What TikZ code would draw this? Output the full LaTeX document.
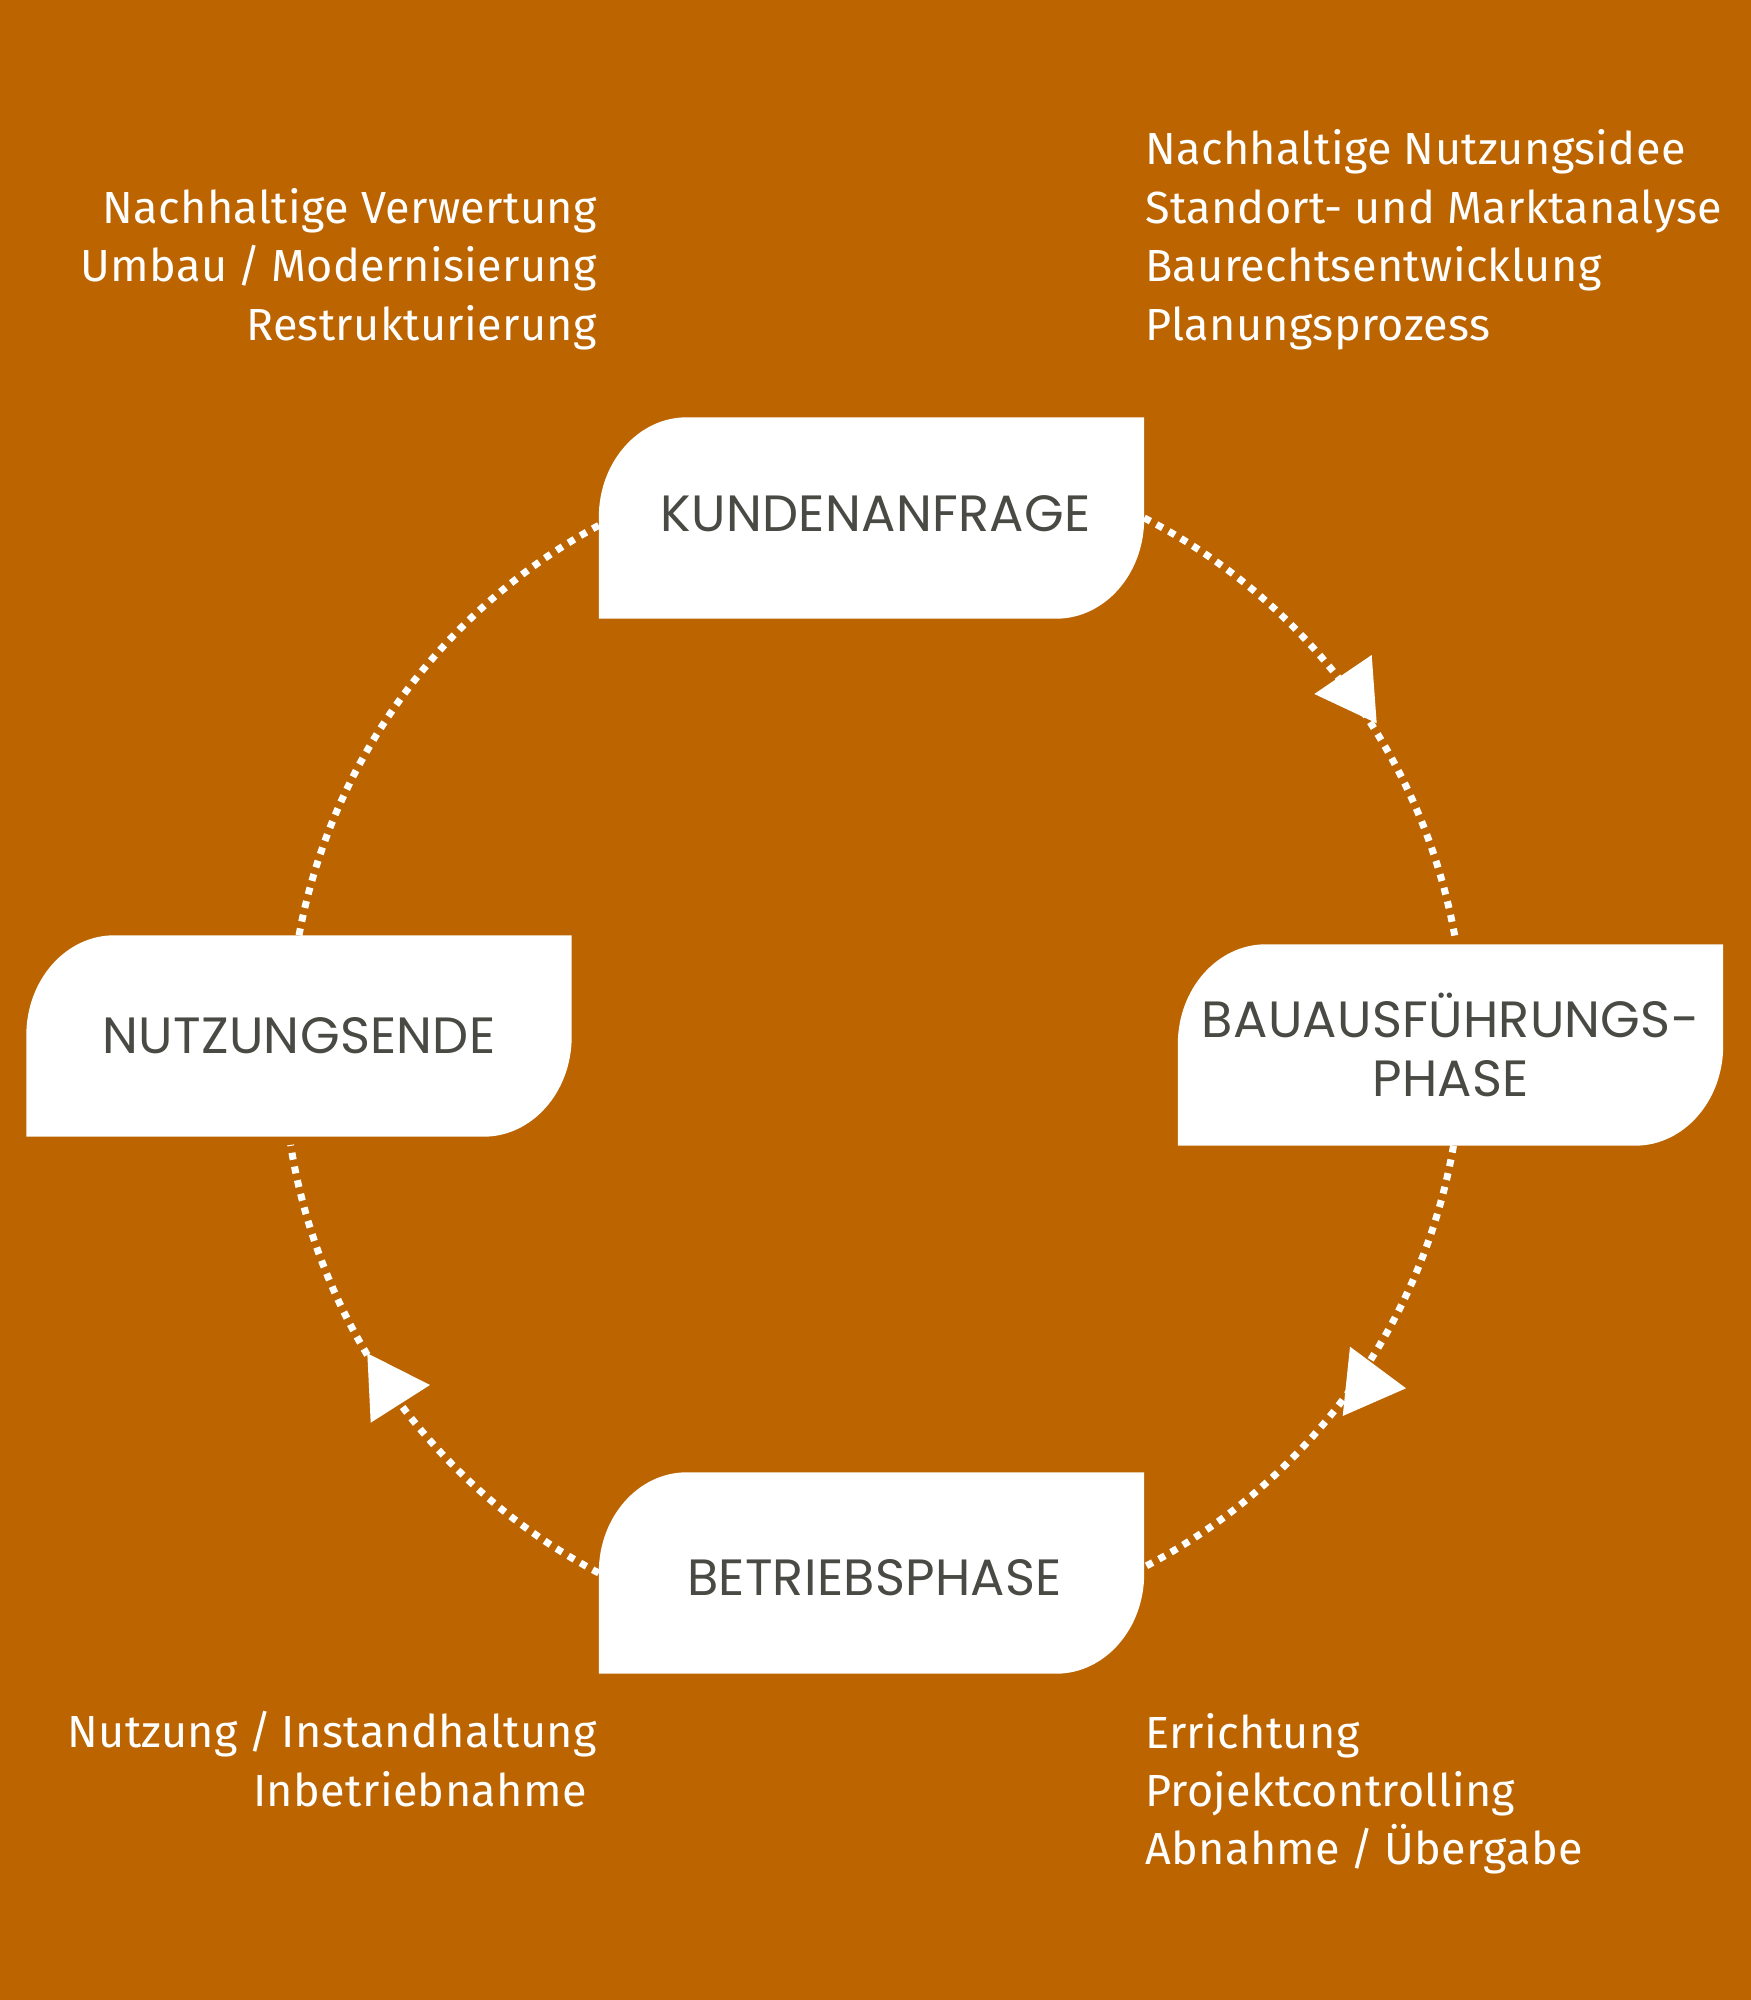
\documentclass[tikz,border=0pt]{standalone}
\usepackage{fontspec}
\setmainfont{Fira Sans}[LetterSpace=0.8]
\newfontfamily\labelfont{Poppins}[LetterSpace=0.6]
\usetikzlibrary{backgrounds,calc}
\definecolor{bgorange}{HTML}{BB6400}
\definecolor{labelgray}{HTML}{4A4A44}
\newcommand\leafbox[1]{\fill[white] (#1.south west) -- ($(#1.north west)+(0,-100)$) arc[start angle=180,end angle=90,x radius=88,y radius=100] -- (#1.north east) -- ($(#1.south east)+(0,100)$) arc[start angle=0,end angle=-90,x radius=88,y radius=100] -- cycle;}
\begin{document}
\begin{tikzpicture}[x=1pt,y=1pt,
  phase/.style={minimum width=545pt, minimum height=201pt, inner sep=0pt, font=\labelfont\fontsize{51}{58.6}\selectfont, text=labelgray, align=center},
  item/.style={font=\fontsize{45}{55}\selectfont, text=white, inner sep=0pt},
  loop/.style={white, line width=7pt, dash pattern=on 7pt off 7pt},
  tip/.style={fill=white}]
\useasboundingbox (0,0) rectangle (1751,2000);
% phase boxes
\node[phase, text height=35.6pt, text depth=8pt] (K) at (871.5,1482) {\hspace*{8pt}KUNDENANFRAGE};
\node[phase] (BA) at (1450.5,955) {BAUAUSFÜHRUNGS-\\PHASE};
\node[phase, text height=45pt, text depth=0pt] (BE) at (871.5,427) {\hspace*{6pt}BETRIEBSPHASE};
\node[phase] (N) at (299,964) {NUTZUNGSENDE};
\begin{scope}[on background layer]
  \fill[bgorange] (0,0) rectangle (1751,2000);
  \leafbox{K}
  \leafbox{BA}
  \leafbox{BE}
  \leafbox{N}
\end{scope}
% dotted cycle
\draw[loop] (K.east) arc[start angle=62.9, end angle=9.7, radius=588];
\draw[loop] ($(BA.south)+(3,0)$) arc[start angle=-9.9, end angle=-63, radius=588];
\draw[loop] (BE.west) arc[start angle=-117.6, end angle=-170.9, radius=588];
\draw[loop] (N.north) arc[start angle=169.4, end angle=117.7, radius=588];
% arrow heads
\fill[tip] (1371.7,1345) -- (1314.3,1306) -- (1376.7,1276.7) -- cycle;
\fill[tip] (1350,653.3) -- (1406,611.7) -- (1342.7,584) -- cycle;
\fill[tip] (367.3,646.7) -- (430,615) -- (370.7,577.3) -- cycle;
% texts
\node[item, anchor=base west] (r1) at (1145,1835) {Nachhaltige Nutzungsidee};
\node[item, anchor=base west] (r2) at (1145,1776.7) {Standort- und Marktanalyse};
\node[item, anchor=base west] (r3) at (1145,1718) {Baurechtsentwicklung};
\node[item, anchor=base west] (r4) at (1145,1659.5) {Planungsprozess};
\node[item, anchor=base east] (l1) at (597,1776.7) {Nachhaltige Verwertung};
\node[item, anchor=base east] (l2) at (597,1718) {Umbau\hspace{-2pt} / \hspace{-2pt}Modernisierung};
\node[item, anchor=base east] (l3) at (597,1659.5) {Restrukturierung};
\node[item, anchor=base east] (bl1) at (597,252) {Nutzung\hspace{-2pt} / \hspace{-2pt}Instandhaltung};
\node[item, anchor=base east] (bl2) at (587,193.5) {Inbetriebnahme};
\node[item, anchor=base west] (br1) at (1145,251.7) {Errichtung};
\node[item, anchor=base west] (br2) at (1145,193.3) {Projektcontrolling};
\node[item, anchor=base west] (br3) at (1145,135) {Abnahme\hspace{-2pt} / \hspace{-2pt}Übergabe};
\end{tikzpicture}
\end{document}
